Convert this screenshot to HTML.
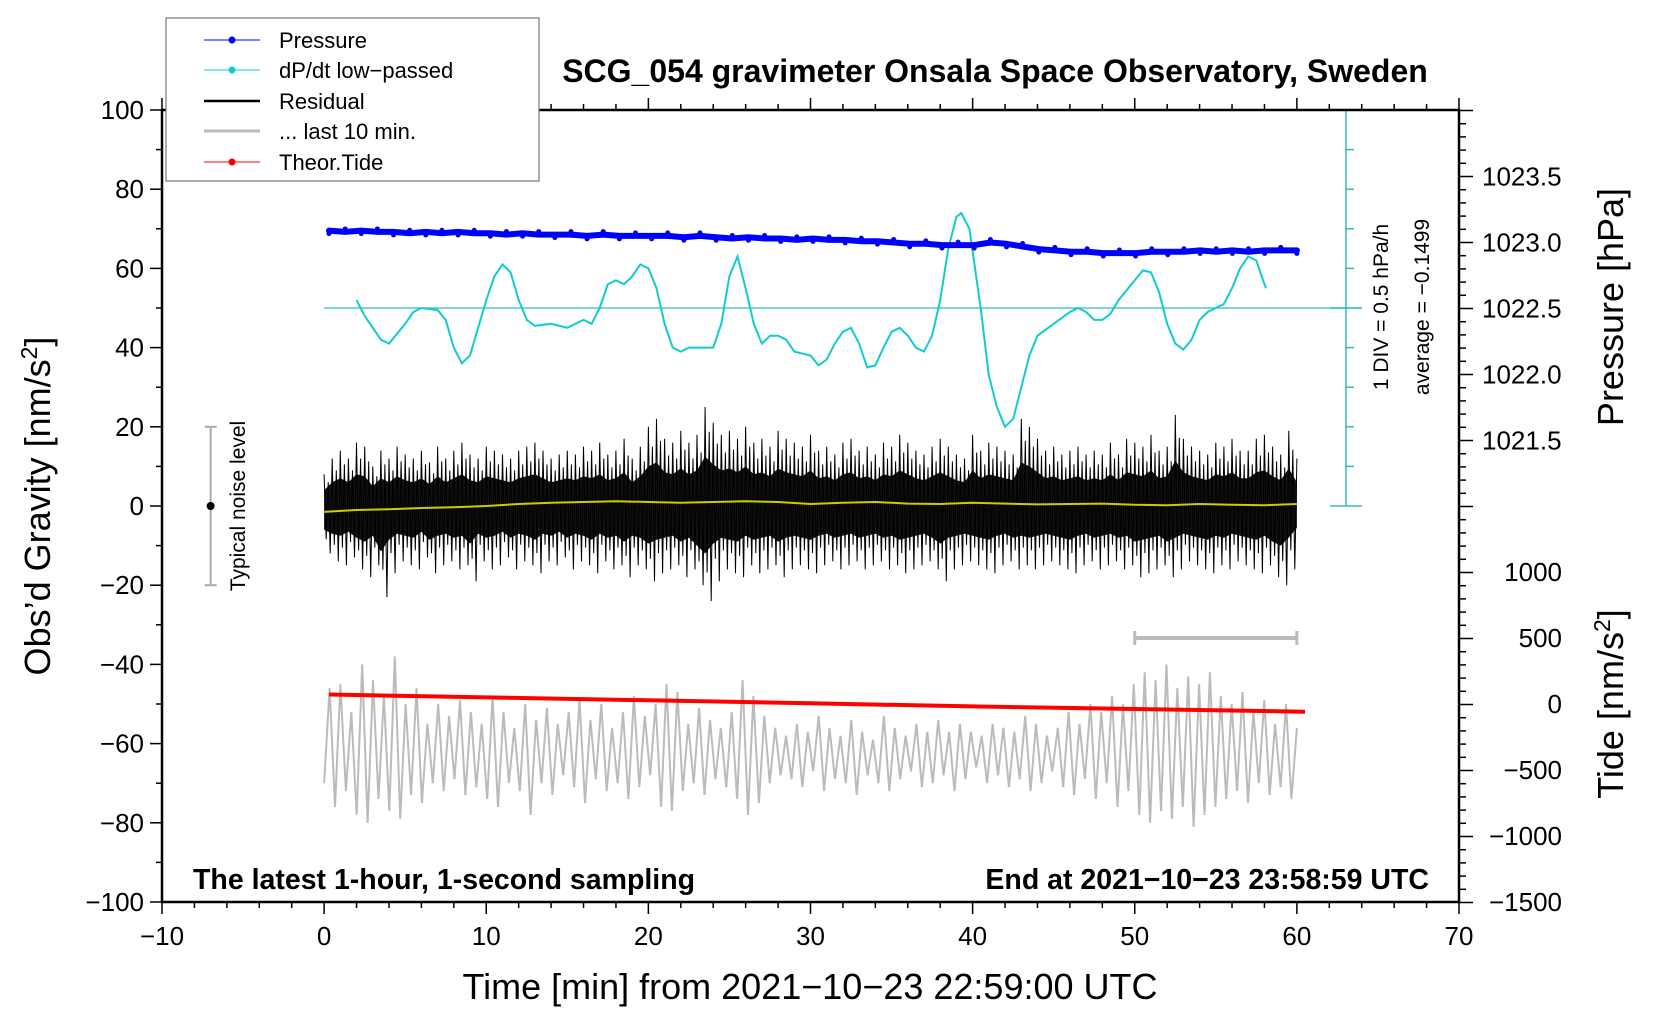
<!DOCTYPE html>
<html><head><meta charset="utf-8"><style>
html,body{margin:0;padding:0;background:#fff}
svg{display:block;font-family:"Liberation Sans",sans-serif}
</style></head><body>
<svg id="chart" width="1660" height="1020" viewBox="0 0 1660 1020" xmlns="http://www.w3.org/2000/svg">
<g id="layer-data"></g>
<rect x="162" y="110" width="1297" height="792" fill="none" stroke="#000" stroke-width="2.5"/>
<g id="layer-axes"></g>
<text x="995" y="82" text-anchor="middle" font-size="32" font-weight="bold">SCG_054 gravimeter Onsala Space Observatory, Sweden</text>
<text x="193" y="889" font-size="28.5" font-weight="bold">The latest 1-hour, 1-second sampling</text>
<text x="1429" y="889" text-anchor="end" font-size="28.5" font-weight="bold">End at 2021−10−23 23:58:59 UTC</text>
<text x="810" y="999" text-anchor="middle" font-size="36">Time [min] from 2021−10−23 22:59:00 UTC</text>
<text transform="translate(50,506) rotate(-90)" text-anchor="middle" font-size="36">Obs’d Gravity [nm/s<tspan dy="-13" font-size="23">2</tspan><tspan dy="13">]</tspan></text>
<text transform="translate(1623,307) rotate(-90)" text-anchor="middle" font-size="36">Pressure [hPa]</text>
<text transform="translate(1623,704) rotate(-90)" text-anchor="middle" font-size="36">Tide [nm/s<tspan dy="-13" font-size="23">2</tspan><tspan dy="13">]</tspan></text>
<text transform="translate(1388,307) rotate(-90)" text-anchor="middle" font-size="21">1 DIV = 0.5 hPa/h</text>
<text transform="translate(1429,307) rotate(-90)" text-anchor="middle" font-size="21">average = −0.1499</text>
<text transform="translate(245,506) rotate(-90)" text-anchor="middle" font-size="21">Typical noise level</text>
<g>
<rect x="166" y="18" width="373" height="163" fill="#fff" stroke="#777" stroke-width="1.2"/>
<g><line x1="204" y1="40" x2="260" y2="40" stroke="#00f" stroke-width="1"/><circle cx="232" cy="40" r="3.5" fill="#00f"/><text x="279" y="48" font-size="22">Pressure</text></g>
<g><line x1="204" y1="70" x2="260" y2="70" stroke="#1cc" stroke-width="1"/><circle cx="232" cy="70" r="3.5" fill="#1cc"/><text x="279" y="78" font-size="22">dP/dt low−passed</text></g>
<g><line x1="204" y1="101" x2="260" y2="101" stroke="#000" stroke-width="2.5"/><text x="279" y="109" font-size="22">Residual</text></g>
<g><line x1="204" y1="131" x2="260" y2="131" stroke="#bbb" stroke-width="3"/><text x="279" y="139" font-size="22">... last 10 min.</text></g>
<g><line x1="204" y1="162" x2="260" y2="162" stroke="#f00" stroke-width="1"/><circle cx="232" cy="162" r="3.5" fill="#f00"/><text x="279" y="170" font-size="22">Theor.Tide</text></g>
</g>
</svg>
<script>
// ---- data ----
const pressureHpa = [1023.09,1023.08,1023.09,1023.08,1023.08,1023.07,1023.08,1023.07,1023.08,1023.07,1023.07,1023.06,1023.07,1023.06,1023.06,1023.06,1023.05,1023.06,1023.05,1023.05,1023.05,1023.05,1023.04,1023.05,1023.04,1023.03,1023.04,1023.03,1023.03,1023.02,1023.03,1023.02,1023.02,1023.01,1023.01,1023.0,1022.99,1022.99,1022.98,1022.98,1022.98,1023.0,1022.99,1022.97,1022.95,1022.94,1022.93,1022.93,1022.92,1022.92,1022.92,1022.93,1022.93,1022.93,1022.94,1022.93,1022.94,1022.93,1022.94,1022.94,1022.94];
const dpdtTimes = [2,2.5,3.5,4,5,5.5,6,7,7.5,8,8.5,9,10,10.5,11,11.5,12,12.5,13,14,15,16,16.5,17,17.5,18,18.5,19,19.5,20,20.5,21,21.5,22,22.5,23,24,24.5,25,25.5,26,26.5,27,27.5,28,28.5,29,30,30.5,31,31.5,32,32.5,33,33.5,34,34.5,35,35.5,36,36.5,37,37.5,38,38.5,39,39.3,39.8,40.5,41,41.5,42,42.5,43,43.5,44,45,46,46.5,47,47.5,48,48.5,49,50,50.5,51,51.5,52,52.5,53,53.5,54,54.5,55,55.5,56,56.5,57,57.5,58,58.1];
const dpdtGrav = [52,48,42,41,46,49,50,49.5,47,40,36,38,52,58,61,59,52,47,45.5,46,45,47,46,50,56,57,56,58,61,60,55,46,40,39,40,40,40,46,58,63,55,46,41,43,43,42,39,38,35.5,37,41,44,45,41,35,35.5,40,44,45,43,40,39,43,52,65,73,74,70,50,33,25,20,22,30,38,43,46,49,50,49,47,47,48.5,52,57,59.5,59,54,46,41,39.5,42,47,49,50,51,55,60,63,62,56,55];
const dpdtHpaH = dpdtGrav.map(g => (g - 50) / 20);
const residualHi = [8,12,14,12,16,15,10,14,12,15,13,12,14,11,15,12,14,16,13,12,15,14,13,12,14,15,16,14,12,13,14,13,15,14,16,13,14,17,12,15,20,22,17,16,19,16,18,25,21,18,19,17,20,16,17,15,19,17,16,15,18,14,15,13,16,17,14,15,13,16,15,18,16,14,13,15,17,15,13,12,18,14,16,15,14,13,22,20,17,14,15,13,14,15,13,14,13,16,13,17,16,15,18,14,15,23,17,15,14,13,16,15,17,14,14,17,18,15,13,19,12];
const residualLo = [-12,-14,-15,-13,-16,-18,-15,-23,-17,-14,-15,-16,-13,-17,-15,-14,-16,-15,-19,-14,-16,-15,-13,-16,-14,-15,-17,-14,-15,-13,-16,-14,-15,-17,-14,-16,-15,-18,-15,-16,-19,-17,-16,-15,-18,-16,-20,-24,-19,-16,-17,-18,-15,-17,-16,-15,-18,-16,-15,-16,-17,-15,-14,-16,-15,-14,-16,-15,-14,-16,-15,-17,-16,-15,-14,-16,-19,-16,-15,-14,-15,-16,-17,-15,-14,-16,-15,-16,-15,-14,-15,-16,-17,-15,-14,-16,-15,-14,-16,-15,-18,-17,-16,-15,-18,-16,-14,-15,-16,-17,-15,-16,-14,-15,-16,-17,-15,-18,-20,-16,-11];
const smoothed = [-1.5,-1,-0.8,-0.5,-0.3,0,0.5,0.8,1,1.2,1,0.8,1,1.2,1,0.5,0.8,1,0.6,0.5,0.8,0.6,0.4,0.5,0.6,0.3,0.2,0.5,0.3,0.2,0.5];
const last10 = [-70,-46,-76,-45,-72,-52,-78,-40,-80,-44,-74,-48,-77,-38,-79,-50,-73,-46,-75,-55,-70,-50,-72,-53,-69,-49,-73,-52,-71,-55,-74,-48,-76,-52,-70,-56,-72,-50,-78,-54,-70,-51,-73,-55,-68,-52,-71,-49,-75,-54,-69,-50,-72,-56,-70,-52,-74,-48,-71,-53,-68,-50,-76,-45,-77,-47,-72,-55,-70,-51,-73,-54,-69,-56,-71,-52,-74,-44,-78,-48,-75,-53,-70,-56,-68,-58,-69,-55,-71,-57,-67,-53,-72,-56,-69,-58,-70,-54,-73,-57,-68,-59,-70,-53,-72,-56,-69,-58,-67,-55,-71,-57,-70,-54,-68,-57,-72,-55,-69,-57,-66,-58,-70,-55,-68,-56,-71,-57,-69,-53,-72,-55,-70,-58,-67,-56,-71,-52,-73,-55,-69,-50,-74,-52,-70,-48,-76,-50,-72,-45,-78,-42,-80,-44,-77,-40,-79,-46,-76,-43,-81,-45,-78,-42,-76,-48,-74,-50,-72,-47,-75,-52,-70,-49,-73,-55,-71,-50,-74,-56];
const tideTimes = [0.3,10,20,30,40,50,60.5];
const tideValues = [72,50,28,5,-18,-38,-58];
const xTicks = [-10,0,10,20,30,40,50,60,70];
const yTicks = [-100,-80,-60,-40,-20,0,20,40,60,80,100];
const pTicks = [1021.5,1022.0,1022.5,1023.0,1023.5];
const tTicks = [-1500,-1000,-500,0,500,1000];

// ---- scales ----
const X = t => 162 + (t + 10) * (1297 / 80);
const Y = g => 506 - g * 3.96;
const YP = p => 242.5 - (p - 1023.0) * 132;
const YT = v => 704 - v * (66 / 500);
const YD = d => Y(50 + d * 20);
const NS = "http://www.w3.org/2000/svg";
const dataLayer = document.getElementById('layer-data');
const axesLayer = document.getElementById('layer-axes');
function mk(tag, attrs, parent) {
  const e = document.createElementNS(NS, tag);
  for (const k in attrs) e.setAttribute(k, attrs[k]);
  parent.appendChild(e);
  return e;
}
const pts = a => a.map(p => p[0].toFixed(1) + "," + p[1].toFixed(1)).join(" ");

let e = mk('line', {x1: 1346, y1: 110, x2: 1346, y2: Y(0), stroke: '#3bb', 'stroke-width': 1.5}, dataLayer);


for (let g = 0; g <= 100; g += 10) {
  const w = (g === 0 || g === 50 || g === 100) ? 16 : 8;
  e = mk('line', {x1: 1346 - (w > 8 ? 16 : 0), y1: Y(g), x2: 1346 + w, y2: Y(g), stroke: '#3bb', 'stroke-width': 1.5}, dataLayer);
  
  
}
e = mk('line', {x1: X(0), y1: YD(0), x2: 1362, y2: YD(0), stroke: '#3bb', 'stroke-width': 1.3}, dataLayer);



e = mk('line', {x1: X(-7), y1: Y(20), x2: X(-7), y2: Y(-20), stroke: '#aaa', 'stroke-width': 2}, dataLayer);


[20, -20].forEach(g => { const c = mk('line', {x1: X(-7) - 6, y1: Y(g), x2: X(-7) + 6, y2: Y(g), stroke: '#aaa', 'stroke-width': 2}, dataLayer);
  
   });
e = mk('circle', {cx: X(-7), cy: Y(0), r: 4, fill: '#000'}, dataLayer);



e = mk('line', {x1: X(50), y1: 638, x2: X(60), y2: 638, stroke: '#bbb', 'stroke-width': 4}, dataLayer);


[50, 60].forEach(t => { const c = mk('line', {x1: X(t), y1: 631, x2: X(t), y2: 645, stroke: '#bbb', 'stroke-width': 3}, dataLayer);
  
   });

const gStep = 60 / (last10.length - 1);
e = mk('polyline', {points: pts(last10.map((v, i) => [X(i * gStep), Y(v)])), fill: 'none', stroke: '#bbb', 'stroke-width': 2}, dataLayer);



e = mk('polyline', {points: pts(tideValues.map((v, i) => [X(tideTimes[i]), YT(v)])), fill: 'none', stroke: '#f00', 'stroke-width': 4}, dataLayer);



const rStep = 60 / (residualHi.length - 1);
const band = [];
residualHi.forEach((v, i) => band.push([X(i * rStep), Y(v * 0.5)]));
for (let i = residualLo.length - 1; i >= 0; i--) band.push([X(i * rStep), Y(residualLo[i] * 0.5)]);
e = mk('polygon', {points: pts(band), fill: '#111'}, dataLayer);


const zz = [];
residualHi.forEach((v, i) => {
  const t = i * rStep, lo = residualLo[i];
  zz.push([X(t), Y(v)]);
  zz.push([X(t + rStep * 0.25), Y(lo * 0.7)]);
  zz.push([X(t + rStep * 0.5), Y(v * 0.75)]);
  zz.push([X(t + rStep * 0.75), Y(lo)]);
});
zz.length -= 3;
e = mk('polyline', {points: pts(zz), fill: 'none', stroke: '#000', 'stroke-width': 1}, dataLayer);


const sStep = 60 / (smoothed.length - 1);
e = mk('polyline', {points: pts(smoothed.map((v, i) => [X(i * sStep), Y(v)])), fill: 'none', stroke: '#cc0', 'stroke-width': 2}, dataLayer);



e = mk('polyline', {points: pts(dpdtHpaH.map((v, i) => [X(dpdtTimes[i]), YD(v)])), fill: 'none', stroke: '#1cc', 'stroke-width': 2}, dataLayer);



const pStep = 60 / (pressureHpa.length - 1);
e = mk('polyline', {points: pts(pressureHpa.map((v, i) => [X(0.3 + i * pStep * 0.995), YP(v)])), fill: 'none', stroke: '#00f', 'stroke-width': 6, 'stroke-linejoin': 'round', 'stroke-linecap': 'round'}, dataLayer);


pressureHpa.forEach((v, i) => {
  const c = mk('circle', {cx: X(0.3 + i * pStep * 0.995), cy: YP(v) + (i % 2 ? -3 : 3), r: 2.5, fill: '#00f'}, dataLayer);
  
  
});

function tick(x1, y1, x2, y2, name) {
  const l = mk('line', {x1, y1, x2, y2, stroke: '#000', 'stroke-width': 1.5}, axesLayer);
  
  
}
function label(x, y, txt, anchor, name) {
  const t = mk('text', {x, y, 'text-anchor': anchor, 'font-size': 26}, axesLayer);
  t.textContent = txt;
  
  
}
const fmt = v => (v < 0 ? '−' + Math.abs(v) : '' + v);
for (let t = -10; t <= 70; t += 2) {
  const len = t % 10 === 0 ? 12 : 6;
  tick(X(t), 902, X(t), 902 + len, 'x-tick');
  tick(X(t), 110, X(t), 110 - len, 'x-top-tick');
}
xTicks.forEach(t => label(X(t), 945, fmt(t), 'middle', 'x-tick-label'));
for (let g = -100; g <= 100; g += 10) tick(162, Y(g), 162 - (g % 20 === 0 ? 12 : 6), Y(g), 'y-tick');
yTicks.forEach(g => label(144, Y(g) + 9, fmt(g), 'end', 'y-tick-label'));
for (let k = -5; k <= 55; k++) {
  const y = YP(1023.5) + k * 13.2;
  if (y < 109 || y > 903) continue;
  tick(1459, y, 1459 + (k % 5 === 0 ? 14 : 7), y, 'right-tick');
}
pTicks.forEach(p => label(1482, YP(p) + 9, p.toFixed(1), 'start', 'pressure-tick-label'));
tTicks.forEach(v => label(1562, YT(v) + 9, fmt(v), 'end', 'tide-tick-label'));
</script>
</body></html>
